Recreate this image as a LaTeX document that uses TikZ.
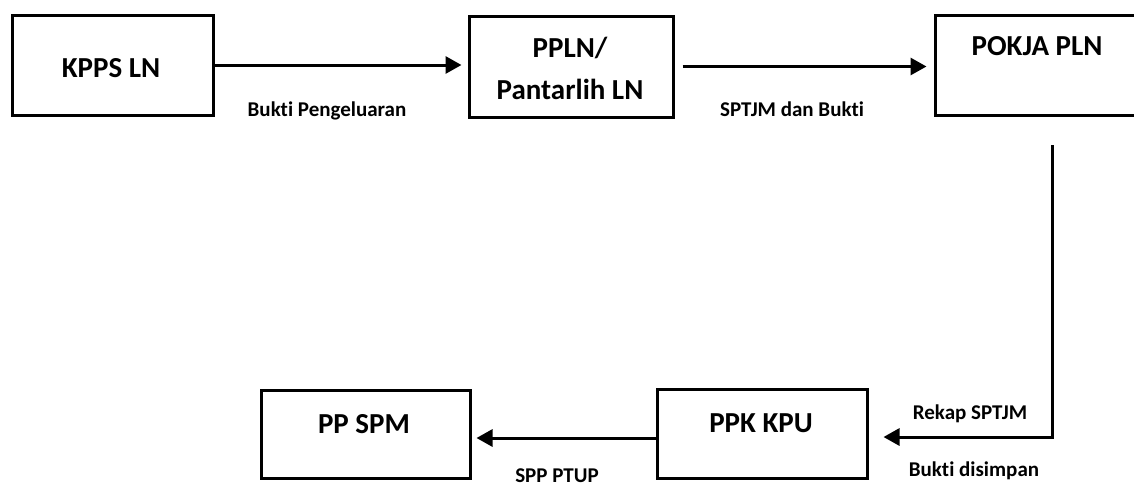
\documentclass[tikz,border=0pt]{standalone}
\usepackage{fontspec}
\setmainfont{Carlito}[Ligatures=NoCommon]
\usetikzlibrary{arrows.meta,calc}
\tikzset{
  box/.style={draw=black, line width=3pt, inner sep=0pt, fill=none},
  boxtext/.style={font=\fontsize{29}{34}\selectfont\bfseries, inner sep=0pt, anchor=base},
  lbl/.style={font=\fontsize{21}{25}\selectfont\bfseries, inner sep=0pt, anchor=base},
  arr/.style={line width=3pt, -{Triangle[length=16pt,width=17pt]}}
}
\begin{document}
\begin{tikzpicture}[x=1pt,y=-1pt]
\clip (0,0) rectangle (1134,485);
\fill[white] (0,0) rectangle (1134,485);
% boxes
\node[box, minimum width=201pt, minimum height=100pt] (kpps) at (112.5,65) {};
\node[box, minimum width=204pt, minimum height=101pt] (ppln) at (571,66.5) {};
\node[box, minimum width=215pt, minimum height=100pt] (pokja) at (1042.5,65) {};
\node[box, minimum width=209pt, minimum height=88pt] (ppspm) at (365.5,434) {};
\node[box, minimum width=210pt, minimum height=89pt] (ppk) at (762,433.5) {};
% box texts
\node[boxtext] (kppsT) at (111,77) {KPPS LN};
\node[boxtext] (pplnT1) at (570,57) {PPLN/};
\node[boxtext] (pplnT2) at (570,99) {Pantarlih LN};
\node[boxtext] (pokjaT) at (1037,55) {POKJA PLN};
\node[boxtext] (ppspmT) at (364,433) {PP SPM};
\node[boxtext] (ppkT) at (761,432) {PPK KPU};
% connectors
\draw[arr, shorten >=6pt] (kpps.east) -- (kpps.east -| ppln.west);
\draw[arr, shorten <=8pt, shorten >=7pt] (ppln.east) -- (ppln.east -| pokja.west);
\coordinate (vtop) at (1052,145);
\draw[arr, shorten >=15pt] (vtop) |- ($(ppk.east)+(0,3.5)$);
\draw[arr, shorten >=5pt] ($(ppk.west)+(0,4.5)$) -- ($(ppspm.east)+(0,4)$);
% labels
\node[lbl] (l1) at (327,116) {Bukti Pengeluaran};
\node[lbl] (l2) at (792,116) {SPTJM dan Bukti};
\node[lbl] (l3) at (557,482) {SPP PTUP};
\node[lbl] (l4) at (970,419) {Rekap SPTJM};
\node[lbl] (l5) at (974,476) {Bukti disimpan};
\end{tikzpicture}
\end{document}
